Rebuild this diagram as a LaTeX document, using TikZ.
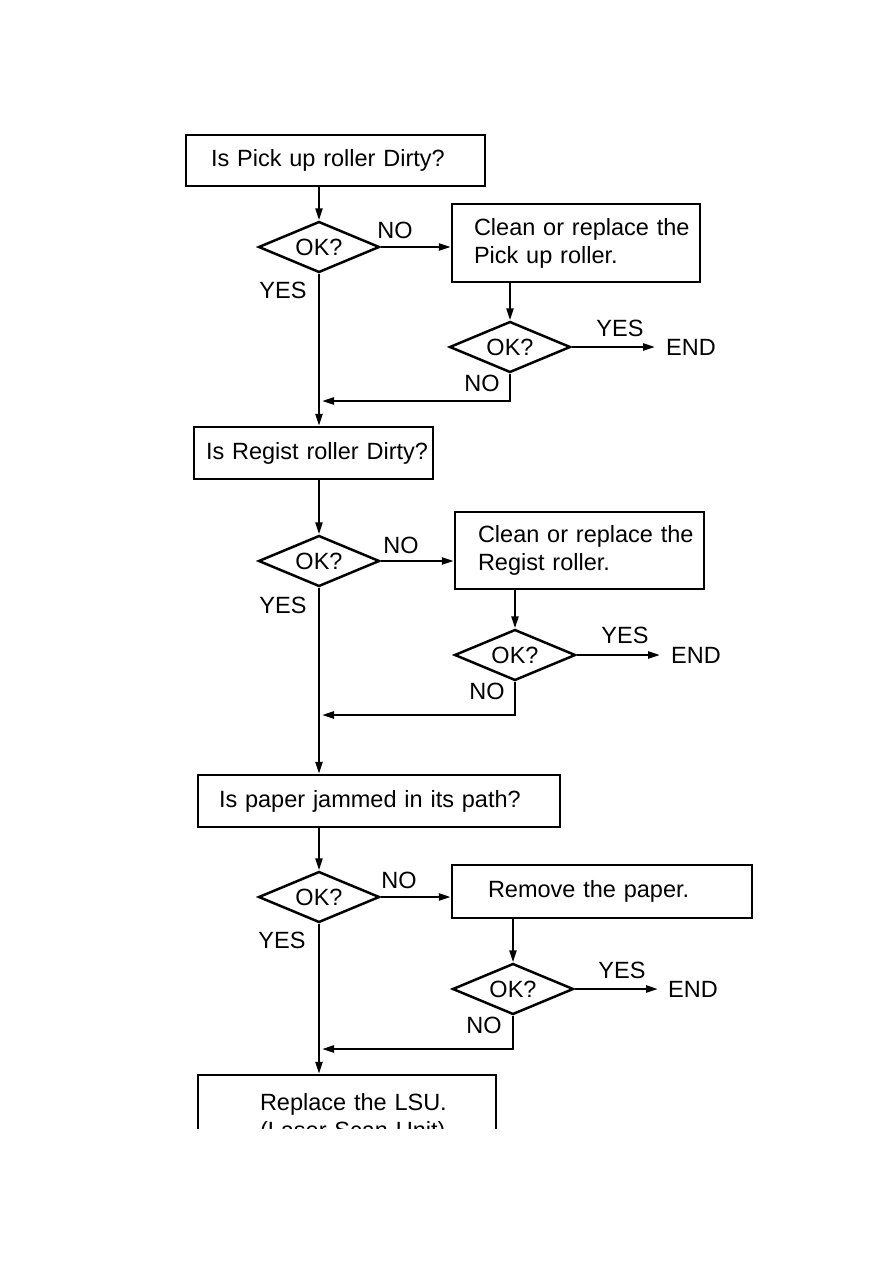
\documentclass[tikz,border=0pt]{standalone}
\usepackage{fontspec}
\setmainfont{Liberation Sans}
\usetikzlibrary{shapes.geometric,arrows.meta}
\begin{document}
\begin{tikzpicture}[x=1pt,y=-1pt,
  every node/.style={font=\fontsize{23.5}{28}\selectfont},
  box/.style={draw, line width=2.5pt, inner xsep=0pt, inner ysep=0pt, align=left},
  dia/.style={draw, diamond, line width=2.5pt, aspect=2.37, minimum width=121pt, minimum height=51pt, inner sep=0pt},
  lbl/.style={inner sep=0pt},
  arr/.style={line width=2.3pt, -{Triangle[length=12pt,width=7pt]}}]
\useasboundingbox (0,0) rectangle (893,1263);
\begin{scope}
\clip (0,0) rectangle (893,1128);
% boxes
\node[box, text width=299pt, minimum height=51pt] (b1) at (335.5,160.5) {\hspace*{25pt}Is Pick up roller Dirty?};
\node[box, text width=248pt, minimum height=78pt] (b2) at (576,243) {\hspace*{22pt}Clean or replace the\\\hspace*{22pt}Pick up roller.};
\node[box, text width=239pt, minimum height=52pt] (b3) at (313.5,453) {\hspace*{12pt}Is Regist roller Dirty?};
\node[box, text width=249pt, minimum height=77pt] (b4) at (579.5,550.5) {\hspace*{23pt}Clean or replace the\\\hspace*{23pt}Regist roller.};
\node[box, text width=362pt, minimum height=52pt] (b5) at (379,801) {\hspace*{21pt}Is paper jammed in its path?};
\node[box, text width=300pt, minimum height=53pt] (b6) at (602,891.5) {\hspace*{36pt}Remove the paper.};
\node[box, text width=298pt, minimum height=86pt] (b7) at (347,1118) {\hspace*{62pt}Replace the LSU.\\\hspace*{62pt}(Laser Scan Unit)};
% diamonds
\node[dia] (d1) at (319,247) {OK?};
\node[dia] (d2) at (510,347) {OK?};
\node[dia] (d3) at (319,561) {OK?};
\node[dia] (d4) at (515,655) {OK?};
\node[dia] (d5) at (319,897) {OK?};
\node[dia] (d6) at (513,989) {OK?};
% END nodes
\node[lbl] (e1) at (691,347) {END};
\node[lbl] (e2) at (696,655) {END};
\node[lbl] (e3) at (693,989) {END};
% junctions
\coordinate (j1) at (319,401);
\coordinate (j2) at (319,715);
\coordinate (j3) at (319,1049);
% labels
\node[lbl] (n1) at (395,230) {NO};
\node[lbl] (y1) at (283,290) {YES};
\node[lbl] (y2) at (620,328) {YES};
\node[lbl] (n2) at (482,383) {NO};
\node[lbl] (n3) at (401,545) {NO};
\node[lbl] (y3) at (283,605) {YES};
\node[lbl] (y4) at (625,635) {YES};
\node[lbl] (n4) at (487,691) {NO};
\node[lbl] (n5) at (399,880) {NO};
\node[lbl] (y5) at (282,940) {YES};
\node[lbl] (y6) at (622,970) {YES};
\node[lbl] (n6) at (484,1025) {NO};
% connectors block 1
\draw[arr] (b1.south -| d1.north) -- (d1.north);
\draw[arr] (d1.east) -- (d1.east -| b2.west);
\draw[arr] (b2.south -| d2.north) -- (d2.north);
\draw[arr, shorten >=11pt] (d2.east) -- (e1.west);
\draw[arr, shorten >=3pt] (d2.south) |- (j1);
\draw[arr] (d1.south) -- (d1.south |- b3.north);
% block 2
\draw[arr] (b3.south -| d3.north) -- (d3.north);
\draw[arr] (d3.east) -- (d3.east -| b4.west);
\draw[arr] (b4.south -| d4.north) -- (d4.north);
\draw[arr, shorten >=11pt] (d4.east) -- (e2.west);
\draw[arr, shorten >=3pt] (d4.south) |- (j2);
\draw[arr] (d3.south) -- (d3.south |- b5.north);
% block 3
\draw[arr] (b5.south -| d5.north) -- (d5.north);
\draw[arr] (d5.east) -- (d5.east -| b6.west);
\draw[arr] (b6.south -| d6.north) -- (d6.north);
\draw[arr, shorten >=10pt] (d6.east) -- (e3.west);
\draw[arr, shorten >=3pt] (d6.south) |- (j3);
\draw[arr] (d5.south) -- (d5.south |- b7.north);
\end{scope}
\end{tikzpicture}
\end{document}
